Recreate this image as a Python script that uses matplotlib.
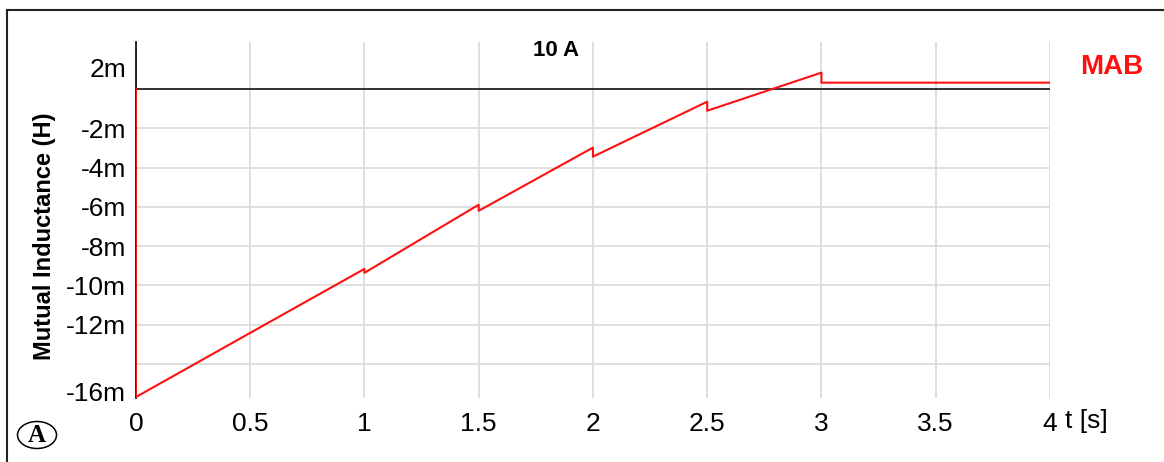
import matplotlib.pyplot as plt
from matplotlib.patches import Ellipse
from matplotlib.lines import Line2D

plt.rcParams['font.family'] = ['Liberation Sans', 'DejaVu Sans']

# mutual inductance MAB over time (values in mH), sawtooth steps every 0.5 s
t_vals = [0.0, 0.0, 0.5, 1.0, 1.0, 1.5, 1.5, 2.0, 2.0, 2.5, 2.5, 3.0, 3.0, 4.0]
m_vals = [0.0, -15.69, -12.42, -9.16, -9.36, -5.89, -6.20, -2.98, -3.44,
          -0.64, -1.10, 0.84, 0.33, 0.33]

x_ticks = [0, 0.5, 1, 1.5, 2, 2.5, 3, 3.5, 4]
x_labels = ['0', '0.5', '1', '1.5', '2', '2.5', '3', '3.5', '4']
y_grid = [-2, -4, -6, -8, -10, -12, -14]
y_label_pos = [1.1, -2, -4, -6, -8, -10, -12, -15.43]
y_labels = ['2m', '-2m', '-4m', '-6m', '-8m', '-10m', '-12m', '-16m']

fig = plt.figure(figsize=(11.64, 4.62), dpi=100)
ax = fig.add_axes([0.1168, 0.1385, 0.7852, 0.7705])

ax.set_xlim(0, 4)
ax.set_ylim(-15.74, 2.4)

ax.set_xticks(x_ticks)
ax.set_xticklabels(x_labels)
ax.set_yticks(y_label_pos)
ax.set_yticklabels(y_labels)
ax.yaxis.remove_overlapping_locs = False
ax.set_yticks(y_grid, minor=True)
ax.tick_params(axis='both', which='both', length=0, labelsize=19)
ax.tick_params(axis='x', pad=10)
ax.tick_params(axis='y', pad=7)

ax.xaxis.grid(True, color='#dcdcdc', linewidth=1.3)
ax.yaxis.grid(True, which='minor', color='#dcdcdc', linewidth=1.3)
ax.yaxis.grid(False, which='major')
ax.set_axisbelow(True)

for side in ['top', 'right', 'bottom']:
    ax.spines[side].set_visible(False)
ax.spines['left'].set_color('black')
ax.spines['left'].set_linewidth(1.2)

ax.axhline(0, color='#222222', linewidth=1.3, zorder=2)
ax.plot(t_vals, m_vals, color='#ff1010', linewidth=1.5, zorder=3)

# annotations
fig.text(556 / 1164, 1 - 50 / 462, '10 A', fontsize=16, fontweight='bold',
         ha='center', va='center')
fig.text(1080 / 1164, 1 - 67 / 462, 'MAB', fontsize=20, fontweight='bold',
         color='#ff1010', ha='left', va='center')
fig.text(1065 / 1164, 1 - 421 / 462, 't [s]', fontsize=19, ha='left', va='center')
fig.text(45 / 1164, 1 - 236 / 462, 'Mutual Inductance (H)', fontsize=17,
         fontweight='bold', rotation=90, ha='center', va='center')

# panel marker
fig.patches.append(Ellipse((37 / 1164, 1 - 435 / 462), 39 / 1164, 27 / 462,
                           transform=fig.transFigure, fill=False,
                           edgecolor='black', linewidth=1.1))
fig.text(37 / 1164, 1 - 436 / 462, 'A', fontsize=18, fontweight='bold',
         family='Liberation Serif', ha='center', va='center')

# frame lines along the top and left edge
fig.add_artist(Line2D([7 / 1164, 7 / 1164], [0, 1 - 10 / 462],
                      transform=fig.transFigure, color='#222222', linewidth=1.5))
fig.add_artist(Line2D([7 / 1164, 1], [1 - 10 / 462, 1 - 10 / 462],
                      transform=fig.transFigure, color='#222222', linewidth=1.5))

fig.savefig('out.png', dpi=100)
